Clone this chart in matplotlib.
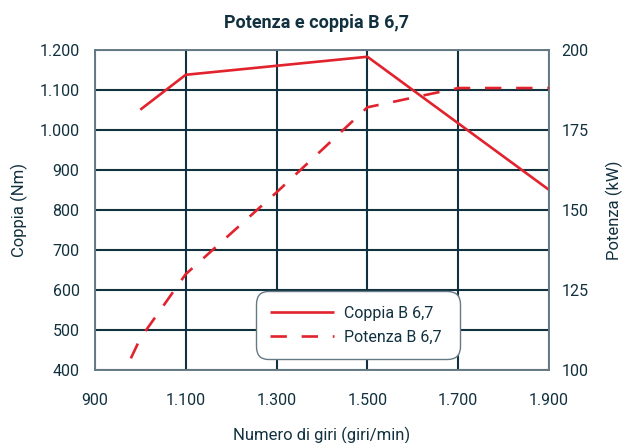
import matplotlib
matplotlib.use("Agg")
import matplotlib.pyplot as plt
from matplotlib.ticker import FuncFormatter

plt.rcParams["font.family"] = ["Roboto", "DejaVu Sans"]

navy = "#12313f"
red = "#e2222c"
spine_col = "#667a85"

# data
rpm_coppia = [1000, 1100, 1500, 1900]
coppia = [1050, 1137, 1182, 850]

rpm_potenza = [950, 1000, 1100, 1300, 1500, 1700, 1900]
potenza = [95, 110, 130, 155.5, 182, 188, 188]

x_ticks = [900, 1100, 1300, 1500, 1700, 1900]
y_ticks = [400, 500, 600, 700, 800, 900, 1000, 1100, 1200]
y2_ticks = [100, 125, 150, 175, 200]


def dotted_thousands(v, pos):
    return f"{int(v):,}".replace(",", ".")


fig = plt.figure(figsize=(6.24, 4.43), dpi=100)
ax = fig.add_axes([0.152, 0.1637, 0.728, 0.7245])
ax2 = ax.twinx()

ax.plot(rpm_coppia, coppia, color=red, lw=1.9, solid_capstyle="butt", label="Coppia B 6,7", zorder=3)
ax2.plot(rpm_potenza, potenza, color=red, lw=1.9, dashes=(6.2, 5.6), label="Potenza B 6,7", zorder=3)

ax.set_xlim(900, 1900)
ax.set_ylim(400, 1200)
ax2.set_ylim(100, 200)

ax.set_xticks(x_ticks)
ax.set_yticks(y_ticks)
ax2.set_yticks(y2_ticks)
ax.xaxis.set_major_formatter(FuncFormatter(dotted_thousands))
ax.yaxis.set_major_formatter(FuncFormatter(dotted_thousands))

ax.grid(True, color=navy, lw=1.5, zorder=1)
ax.set_axisbelow(True)

for a in (ax, ax2):
    for s in a.spines.values():
        s.set_color(spine_col)
        s.set_linewidth(1.2)
    a.tick_params(length=0, labelsize=11.5, colors=navy)
ax.tick_params(axis="y", pad=11)
ax.tick_params(axis="x", pad=16)
ax2.tick_params(axis="y", pad=9)

ax.set_ylabel("Coppia (Nm)", fontsize=12, color=navy, labelpad=8)
ax2.set_ylabel("Potenza (kW)", fontsize=12, color=navy, labelpad=12)
ax.set_xlabel("Numero di giri (giri/min)", fontsize=12, color=navy, labelpad=14)

fig.text(0.508, 0.947, "Potenza e coppia B 6,7", ha="center", va="center",
         fontsize=13, fontweight="bold", color=navy)

h1, l1 = ax.get_legend_handles_labels()
h2, l2 = ax2.get_legend_handles_labels()
leg = ax2.legend(h1 + h2, l1 + l2, loc="lower left",
                 bbox_to_anchor=(0.354, 0.036, 0.45, 0.2), mode="expand",
                 borderaxespad=0, borderpad=0.9, fontsize=11.5, handlelength=4.0,
                 handletextpad=0.6, labelspacing=0.55, frameon=True, fancybox=True,
                 framealpha=1, edgecolor=spine_col, labelcolor=navy)
leg.get_frame().set_linewidth(1.0)
leg.get_frame().set_boxstyle("round", pad=0, rounding_size=0.8)

fig.savefig("out.png", dpi=100)
